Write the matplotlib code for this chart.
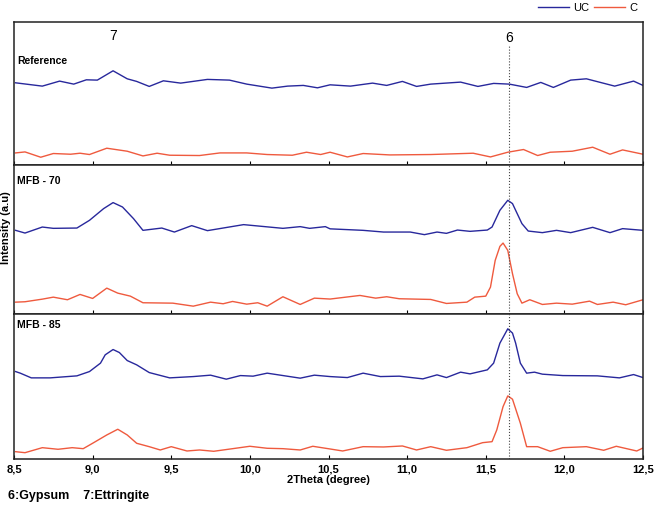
import matplotlib.pyplot as plt

plt.rcParams['font.family'] = ['Liberation Sans', 'DejaVu Sans']

# ---- data (2theta in degrees, intensity in arbitrary units) ----
ref_uc_x = [8.51, 8.68, 8.79, 8.88, 8.96, 9.03, 9.13, 9.22, 9.28, 9.36, 9.45, 9.56, 9.73, 9.87,
            9.98, 10.14, 10.24, 10.34, 10.43, 10.51, 10.64, 10.78, 10.87, 10.97, 11.06, 11.15,
            11.34, 11.45, 11.55, 11.65, 11.76, 11.85, 11.93, 12.04, 12.14, 12.32, 12.44, 12.50]
ref_uc_y = [81.6, 78.3, 83.3, 80.3, 84.6, 84.3, 93.6, 85.6, 83.0, 78.0, 83.6, 81.3, 85.0, 84.3,
            80.3, 76.3, 78.3, 79.0, 76.6, 79.6, 78.3, 81.3, 79.0, 83.0, 78.0, 80.3,
            82.3, 78.0, 81.0, 80.3, 77.0, 82.0, 77.0, 84.3, 85.6, 78.3, 83.3, 79.0]
ref_c_x = [8.51, 8.57, 8.67, 8.75, 8.86, 8.92, 8.98, 9.09, 9.22, 9.32, 9.41, 9.49, 9.68, 9.81,
           9.98, 10.11, 10.27, 10.36, 10.45, 10.51, 10.62, 10.72, 10.89, 11.15, 11.42, 11.53,
           11.64, 11.74, 11.83, 11.91, 12.05, 12.18, 12.29, 12.37, 12.50]
ref_c_y = [11.6, 12.6, 7.3, 11.0, 10.3, 11.3, 10.0, 16.3, 13.3, 8.6, 11.3, 9.3, 9.0, 11.6,
           11.6, 10.0, 9.3, 12.3, 10.0, 12.3, 7.6, 11.0, 9.6, 10.0, 11.3, 7.6,
           12.3, 15.0, 9.0, 12.3, 13.3, 17.3, 10.3, 14.6, 10.3]

m70_uc_x = [8.51, 8.57, 8.68, 8.75, 8.90, 8.98, 9.07, 9.13, 9.19, 9.26, 9.32, 9.44, 9.52, 9.63,
            9.73, 9.96, 10.21, 10.32, 10.38, 10.48, 10.51, 10.72, 10.85, 11.02, 11.11, 11.19,
            11.25, 11.32, 11.40, 11.51, 11.54, 11.59, 11.64, 11.67, 11.69, 11.73, 11.77, 11.86,
            11.95, 12.04, 12.18, 12.29, 12.37, 12.50]
m70_uc_y = [83.3, 80.6, 86.6, 85.3, 85.6, 93.3, 105.0, 111.0, 106.6, 95.0, 83.3, 85.6, 81.6, 88.0,
            83.0, 89.0, 85.3, 87.0, 85.3, 87.0, 84.8, 83.3, 81.6, 81.6, 79.0, 81.6,
            80.3, 83.6, 82.3, 83.6, 86.6, 103.3, 113.3, 110.0, 103.3, 90.0, 82.6, 81.0,
            83.3, 81.0, 86.3, 81.0, 85.0, 83.3]
m70_c_x = [8.51, 8.57, 8.68, 8.75, 8.84, 8.92, 9.00, 9.09, 9.16, 9.24, 9.32, 9.51, 9.64, 9.75,
           9.83, 9.89, 9.98, 10.05, 10.11, 10.21, 10.32, 10.41, 10.51, 10.70, 10.80, 10.87,
           10.95, 11.15, 11.25, 11.38, 11.43, 11.50, 11.53, 11.56, 11.59, 11.61, 11.64, 11.67,
           11.70, 11.73, 11.78, 11.86, 11.95, 12.05, 12.16, 12.21, 12.31, 12.39, 12.50]
m70_c_y = [11.6, 12.0, 14.6, 16.6, 14.0, 19.3, 15.3, 25.6, 20.6, 17.6, 11.0, 10.6, 7.6, 11.6,
           10.0, 12.3, 9.6, 11.0, 7.6, 17.0, 9.3, 15.6, 14.7, 18.3, 15.6, 17.0,
           15.0, 14.3, 10.3, 11.6, 16.6, 17.6, 26.6, 53.3, 67.3, 70.6, 63.3, 40.0,
           20.0, 10.6, 14.0, 9.3, 10.6, 9.6, 12.6, 9.3, 11.6, 9.0, 14.0]

m85_uc_x = [8.51, 8.54, 8.61, 8.73, 8.90, 8.98, 9.05, 9.08, 9.13, 9.17, 9.22, 9.28, 9.36, 9.49,
            9.64, 9.75, 9.85, 9.94, 10.02, 10.11, 10.32, 10.41, 10.51, 10.62, 10.72, 10.83,
            10.95, 11.10, 11.19, 11.25, 11.34, 11.40, 11.51, 11.55, 11.59, 11.64, 11.67, 11.69,
            11.72, 11.76, 11.81, 11.86, 11.99, 12.21, 12.35, 12.44, 12.50]
m85_uc_y = [87.3, 85.7, 81.0, 81.0, 83.0, 87.3, 95.7, 104.0, 109.3, 106.3, 98.3, 94.0, 86.3, 81.0,
            82.3, 83.7, 79.7, 83.3, 82.7, 85.7, 80.7, 83.7, 82.3, 81.3, 85.7, 82.3,
            82.7, 80.0, 84.0, 81.3, 86.7, 85.0, 89.0, 95.7, 115.7, 130.0, 125.7, 115.7,
            95.7, 85.7, 86.7, 84.7, 83.3, 83.0, 81.0, 84.3, 81.3]
m85_c_x = [8.51, 8.57, 8.68, 8.78, 8.87, 8.94, 9.00, 9.09, 9.16, 9.22, 9.28, 9.36, 9.43, 9.50,
           9.60, 9.68, 9.77, 9.89, 10.00, 10.11, 10.21, 10.32, 10.40, 10.51, 10.59, 10.72,
           10.85, 10.97, 11.06, 11.15, 11.25, 11.38, 11.48, 11.54, 11.57, 11.61, 11.64, 11.67,
           11.72, 11.76, 11.83, 11.91, 11.99, 12.14, 12.25, 12.33, 12.46, 12.50]
m85_c_y = [7.3, 6.3, 11.3, 9.7, 11.3, 10.3, 15.7, 24.0, 29.7, 24.0, 15.7, 12.3, 9.0, 12.3,
           8.0, 9.0, 7.7, 10.3, 12.7, 10.7, 10.3, 9.0, 12.7, 10.0, 8.0, 12.3,
           12.0, 13.0, 9.0, 12.3, 8.7, 11.3, 16.3, 17.3, 29.0, 52.3, 63.0, 59.7,
           35.7, 12.3, 12.3, 7.7, 11.3, 12.3, 8.7, 12.7, 8.0, 11.0]

panels = [
    ('Reference', ref_uc_x, ref_uc_y, ref_c_x, ref_c_y, 142),
    ('MFB - 70', m70_uc_x, m70_uc_y, m70_c_x, m70_c_y, 149),
    ('MFB - 85', m85_uc_x, m85_uc_y, m85_c_x, m85_c_y, 145),
]
label_y = [0.73, 0.89, 0.92]

xticks = [8.5, 9.0, 9.5, 10.0, 10.5, 11.0, 11.5, 12.0, 12.5]
xtick_labels = ['8,5', '9,0', '9,5', '10,0', '10,5', '11,0', '11,5', '12,0', '12,5']
gypsum_pos = 11.65
ettringite_pos = 9.13

blue = '#28289c'
red = '#ef5a3e'

fig, axes = plt.subplots(3, 1, figsize=(6.54, 5.05), dpi=100, sharex=True,
                         gridspec_kw={'height_ratios': [p[5] for p in panels], 'hspace': 0})
fig.subplots_adjust(left=0.0214, right=0.9832, top=0.9558, bottom=0.0911)

for i, (ax, (name, ux, uy, cx, cy, h)) in enumerate(zip(axes, panels)):
    l1, = ax.plot(ux, uy, color=blue, lw=1.0, label='UC')
    l2, = ax.plot(cx, cy, color=red, lw=1.0, label='C')
    ax.set_ylim(0, h)
    ax.set_xlim(8.5, 12.5)
    ax.set_yticks([])
    ax.text(0.005, label_y[i], name, transform=ax.transAxes, fontsize=7.5,
            fontweight='bold', va='center', ha='left')
    for s in ax.spines.values():
        s.set_linewidth(1.1)
        s.set_color('#222222')
    ax.axvline(gypsum_pos, ymax=0.84 if i == 0 else 1, color='#444444',
               ls=':', lw=0.8)
    ax.tick_params(axis='x', direction='in', length=3, width=0.8)

axes[0].text(ettringite_pos, 128, '7', ha='center', va='center', fontsize=10)
axes[0].text(gypsum_pos, 126, '6', ha='center', va='center', fontsize=10)

axes[-1].set_xticks(xticks)
axes[-1].set_xticklabels(xtick_labels, fontsize=8, fontweight='bold')
axes[-1].tick_params(axis='x', pad=4)

fig.text(0.5025, 0.0495, '2Theta (degree)', ha='center', va='center',
         fontsize=8, fontweight='bold')
fig.text(0.009, 0.55, 'Intensity (a.u)', rotation=90, ha='center', va='center',
         fontsize=8, fontweight='bold')
fig.text(0.012, 0.018, '6:Gypsum    7:Ettringite', ha='left', va='center',
         fontsize=9, fontweight='bold')

fig.legend(handles=[l1, l2], loc='upper right', bbox_to_anchor=(0.985, 1.008),
           ncol=2, frameon=False, fontsize=8, handlelength=2.8,
           columnspacing=0.4, handletextpad=0.4, borderpad=0.1)

fig.savefig('out.png', dpi=100)
